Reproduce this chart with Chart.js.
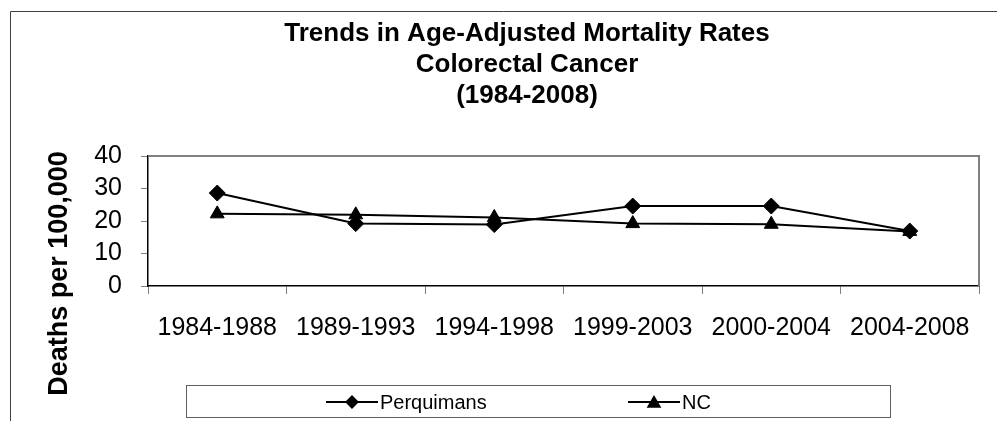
<!DOCTYPE html>
<html>
<head>
<meta charset="utf-8">
<script src="https://cdn.jsdelivr.net/npm/chart.js@4/dist/chart.umd.min.js"></script>
<style>
  body { margin: 0; background: white; }
</style>
</head>
<body>
<canvas id="grafico" width="997" height="421"></canvas>
<script>
const periodos = ['1984-1988', '1989-1993', '1994-1998', '1999-2003', '2000-2004', '2004-2008'];
const perquimans = [28.6, 19.2, 18.9, 24.6, 24.6, 16.9];
const nc = [22.2, 21.9, 21.1, 19.2, 19.0, 16.8];
const titulo = ['Trends in Age-Adjusted Mortality Rates', 'Colorectal Cancer', '(1984-2008)'];
const tituloY = 'Deaths per 100,000';

const fonte = '"Liberation Sans", Arial, sans-serif';

// moldura, titulos e legenda desenhados a mao
const extras = {
    id: 'extras',
    beforeDatasetsDraw(chart) {
        const c = chart.ctx;
        const a = chart.chartArea;
        c.save();
        // topo e lado direito da area do grafico em cinza
        c.strokeStyle = '#808080';
        c.lineWidth = 2;
        c.beginPath();
        c.moveTo(a.left, a.top);
        c.lineTo(a.right, a.top);
        c.lineTo(a.right, a.bottom);
        c.stroke();
        c.restore();
    },
    afterDraw(chart) {
        const c = chart.ctx;
        c.save();
        // borda externa
        c.strokeStyle = '#404040';
        c.lineWidth = 1;
        c.beginPath();
        c.moveTo(10.5, 421);
        c.lineTo(10.5, 11.5);
        c.lineTo(997, 11.5);
        c.stroke();

        // titulo
        c.fillStyle = 'black';
        c.font = 'bold 26px ' + fonte;
        c.textAlign = 'center';
        c.textBaseline = 'alphabetic';
        titulo.forEach((t, i) => c.fillText(t, 527, 41 + i * 31));

        // titulo do eixo Y
        c.save();
        c.translate(67, 273.5);
        c.rotate(-Math.PI / 2);
        c.font = 'bold 27px ' + fonte;
        c.fillText(tituloY, 0, 0);
        c.restore();

        // legenda
        c.strokeStyle = '#606060';
        c.lineWidth = 1;
        c.strokeRect(186.5, 385.5, 704, 32);
        const itens = [{ x: 326, tx: 380 }, { x: 628, tx: 682 }];
        chart.data.datasets.forEach((ds, i) => {
            const it = itens[i];
            const y = 402;
            c.strokeStyle = 'black';
            c.lineWidth = 2;
            c.beginPath();
            c.moveTo(it.x, y);
            c.lineTo(it.x + 52, y);
            c.stroke();
            Chart.helpers.drawPoint(c, {
                pointStyle: ds.pointStyle,
                radius: ds.pointStyle === 'triangle' ? 6.5 : 5.5,
                borderWidth: 1
            }, it.x + 26, ds.pointStyle === 'triangle' ? y + 1.5 : y);
            c.fillStyle = 'black';
            c.font = '20px ' + fonte;
            c.textAlign = 'left';
            c.textBaseline = 'middle';
            c.fillText(ds.label, it.tx, y + 1);
        });
        c.restore();
    }
};

const ctx = document.getElementById('grafico').getContext('2d');
Chart.defaults.font.family = fonte;
Chart.defaults.color = 'black';

const grafico = new Chart(ctx, {
    type: 'line',
    data: {
        labels: periodos,
        datasets: [{
            label: 'Perquimans',
            data: perquimans,
            borderColor: 'black',
            backgroundColor: 'black',
            borderWidth: 2,
            pointStyle: 'rectRot',
            pointRadius: 8,
            pointBorderWidth: 1,
            tension: 0
        }, {
            label: 'NC',
            data: nc,
            borderColor: 'black',
            backgroundColor: 'black',
            borderWidth: 2,
            pointStyle: 'triangle',
            pointRadius: 8,
            pointBorderWidth: 1,
            tension: 0
        }]
    },
    options: {
        responsive: false,
        animation: false,
        layout: {
            padding: { top: 156, right: 18, bottom: 0, left: 0 }
        },
        plugins: {
            legend: { display: false },
            title: { display: false },
            tooltip: { enabled: false }
        },
        scales: {
            x: {
                offset: true,
                grid: {
                    offset: true,
                    drawOnChartArea: false,
                    tickLength: 8,
                    tickColor: '#808080'
                },
                border: { color: 'black', width: 1.5 },
                ticks: {
                    font: { size: 25 },
                    padding: 19,
                    maxRotation: 0,
                    autoSkip: false
                },
                afterFit(scale) { scale.height = 135; }
            },
            y: {
                min: 0,
                max: 40,
                grid: {
                    drawOnChartArea: false,
                    tickLength: 7,
                    tickColor: '#808080'
                },
                border: { color: 'black', width: 1.5 },
                ticks: {
                    stepSize: 10,
                    autoSkip: false,
                    font: { size: 25 },
                    padding: 19
                },
                afterFit(scale) { scale.width = 148; }
            }
        }
    },
    plugins: [extras]
});
</script>
</body>
</html>
